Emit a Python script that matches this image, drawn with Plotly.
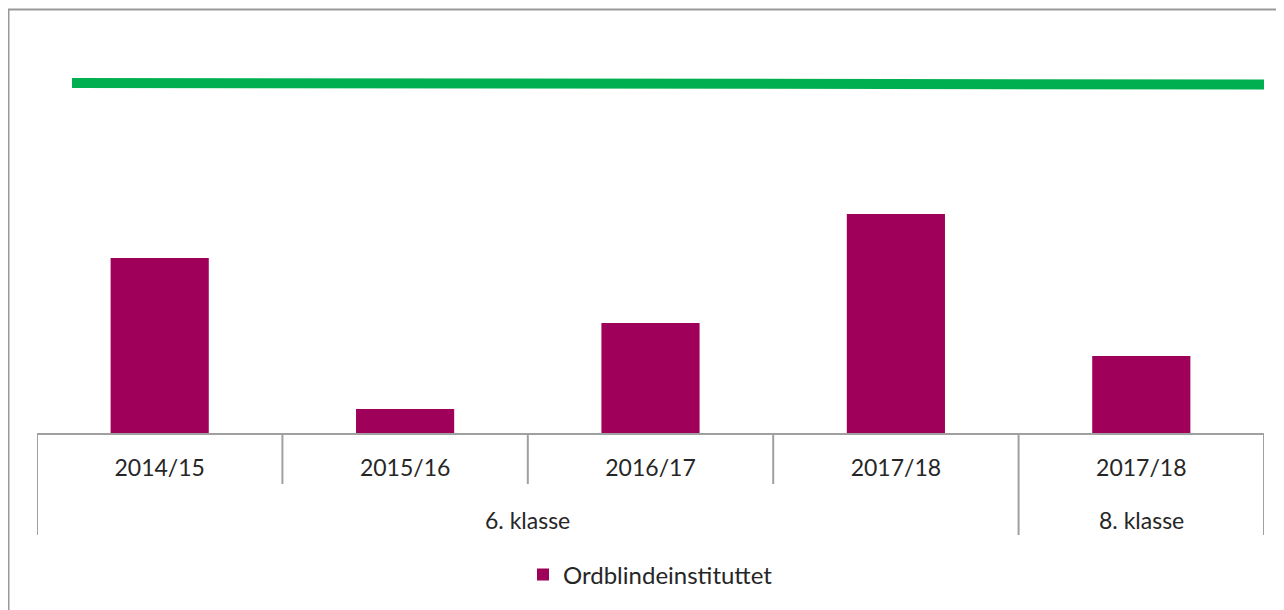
import plotly.graph_objects as go

years = ["2014/15", "2015/16", "2016/17", "2017/18", "2017/18"]
groups = ["6. klasse", "8. klasse"]
group_span = [(0, 3), (4, 4)]
bar_values = [17.5, 2.4, 11.0, 21.9, 7.7]
line_values = [35.0, 34.95, 34.9, 34.9, 34.85]
bar_name = "Ordblindeinstituttet"

BAR = "#9E005A"
GREEN = "#00B050"
GRID = "#A0A0A0"
FONT = "Lato, Calibri, sans-serif"

OFF = 8  # page offset of the figure
W, H = 1284 - OFF, 610 - OFF
L, R, T, B = 37 - OFF, 20, 10 - OFF, 177
plot_h = H - T - B

fig = go.Figure()
fig.add_trace(go.Bar(x=list(range(len(years))), y=bar_values, name=bar_name,
                     marker=dict(color=BAR, line=dict(width=0)), width=0.4))
fig.add_trace(go.Scatter(x=list(range(len(line_values))), y=line_values, mode="lines",
                         line=dict(color=GREEN, width=10), xaxis="x2",
                         showlegend=False, hoverinfo="skip"))

def py(page_y):
    return (H - B - (page_y - OFF)) / plot_h

def px(page_x):
    return ((page_x - OFF) - L) / (W - L - R)

shapes = []
for b in [0.5, 1.5, 2.5]:
    shapes.append(dict(type="line", xref="x", yref="paper", x0=b, x1=b,
                       y0=0, y1=py(484), line=dict(color=GRID, width=2)))
for b in [-0.5, 3.5, 4.5]:
    shapes.append(dict(type="line", xref="x", yref="paper", x0=b, x1=b,
                       y0=0, y1=py(535), line=dict(color=GRID, width=2)))
shapes.append(dict(type="rect", xref="paper", yref="paper",
                   x0=px(8.5), x1=1.2, y0=-2, y1=py(9.5),
                   line=dict(color="#999999", width=2)))

annotations = []
for g, (a, b) in zip(groups, group_span):
    annotations.append(dict(x=(a + b) / 2, y=py(520), xref="x", yref="paper",
                            text=g, showarrow=False, yanchor="middle",
                            font=dict(size=23, color="#262626", family=FONT)))

fig.update_layout(
    width=W, height=H,
    margin=dict(l=L, r=R, t=T, b=B),
    paper_bgcolor="white", plot_bgcolor="white",
    font=dict(family=FONT, size=23, color="#262626"),
    xaxis=dict(range=[-0.5, 4.5], tickvals=list(range(len(years))), ticktext=years,
               showline=True, linecolor=GRID, linewidth=2, showgrid=False,
               zeroline=False, ticks="", ticklabelstandoff=13, fixedrange=True,
               tickfont=dict(size=23)),
    xaxis2=dict(overlaying="x", range=[-35 / 298, 4], visible=False, fixedrange=True),
    yaxis=dict(range=[0, plot_h / 10], visible=False, showgrid=False, zeroline=False),
    showlegend=True,
    legend=dict(orientation="h", x=0.5, xanchor="center", y=py(575), yanchor="middle",
                font=dict(size=24, color="#262626", family=FONT)),
    shapes=shapes, annotations=annotations,
)

fig.write_html("out.html")
